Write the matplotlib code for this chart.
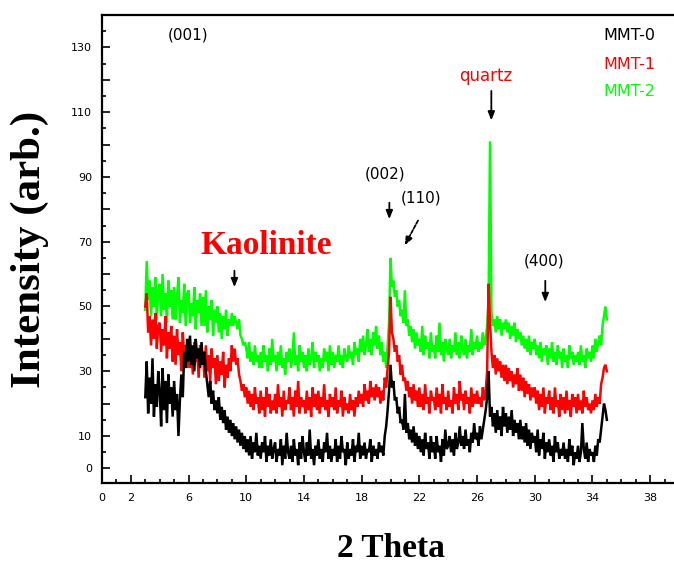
import numpy as np
import matplotlib
matplotlib.use("Agg")
import matplotlib.pyplot as plt
from matplotlib.ticker import FixedLocator, FixedFormatter, MultipleLocator

# ---------------- data ----------------
theta_start, theta_stop, theta_step = 3.0, 35.0, 0.1

mmt2 = [  # green
    49, 64, 52, 58, 47, 56, 50, 59, 46, 55,
    57, 47, 60, 49, 54, 45, 58, 50, 55, 46,
    56, 46, 53, 59, 45, 52, 48, 57, 44, 54,
    55, 45, 51, 47, 56, 43, 52, 48, 54, 44,
    53, 44, 55, 42, 50, 46, 52, 41, 49, 45,
    50, 42, 48, 40, 47, 43, 49, 41, 46, 44,
    48, 44, 47, 45, 43, 46, 41, 40, 38, 39,
    37, 34, 39, 33, 36, 32, 38, 33, 35, 31,
    36, 31, 38, 33, 35, 30, 37, 32, 40, 33,
    35, 30, 36, 32, 38, 31, 34, 29, 36, 33,
    37, 31, 34, 42, 32, 35, 30, 38, 33, 36,
    31, 35, 30, 37, 32, 34, 39, 31, 36, 33,
    35, 30, 34, 31, 37, 33, 36, 30, 38, 32,
    36, 31, 35, 33, 38, 32, 35, 31, 37, 34,
    33, 38, 34, 36, 32, 39, 35, 37, 33, 40,
    36, 41, 35, 38, 43, 36, 40, 35, 42, 38,
    44, 37, 41, 35, 39, 33, 36, 31, 38, 45,
    65, 56, 58, 53, 55, 50, 52, 47, 49, 45,
    55, 44, 46, 41, 44, 39, 43, 37, 42, 38,
    40, 36, 44, 35, 41, 37, 39, 34, 42, 36,
    38, 34, 41, 36, 45, 35, 39, 33, 40, 37,
    35, 40, 34, 38, 36, 42, 35, 39, 34, 41,
    37, 35, 40, 34, 38, 36, 43, 35, 39, 37,
    41, 36, 39, 37, 42, 38, 40, 44, 52, 101,
    48, 44, 46, 42, 47, 43, 46, 41, 45, 43,
    46, 42, 45, 40, 44, 41, 45, 39, 43, 40,
    42, 38, 41, 37, 40, 36, 41, 35, 39, 37,
    40, 35, 38, 34, 39, 33, 37, 35, 38, 32,
    37, 34, 39, 33, 36, 32, 38, 34, 36, 31,
    37, 33, 35, 31, 38, 34, 36, 32, 35, 33,
    36, 32, 38, 33, 35, 31, 37, 34, 36, 33,
    38, 34, 40, 36, 39, 41, 38, 44, 47, 50,
    46,
]

mmt1 = [  # red
    50, 54, 42, 47, 38, 46, 40, 48, 37, 44,
    45, 36, 43, 38, 47, 34, 42, 37, 44, 33,
    41, 32, 43, 35, 39, 30, 42, 34, 38, 31,
    40, 31, 37, 29, 39, 33, 36, 28, 38, 32,
    36, 28, 38, 30, 35, 27, 37, 31, 34, 26,
    35, 27, 33, 29, 36, 25, 32, 28, 34, 30,
    38, 33, 37, 32, 34, 29, 27, 24, 26, 22,
    25, 20, 24, 19, 23, 18, 25, 20, 22, 17,
    24, 18, 22, 16, 25, 19, 23, 17, 21, 18,
    23, 17, 26, 19, 22, 16, 24, 18, 21, 20,
    25, 18, 22, 16, 24, 19, 27, 17, 22, 19,
    21, 17, 24, 18, 22, 16, 25, 19, 23, 18,
    24, 17, 22, 19, 26, 18, 21, 16, 23, 19,
    22, 18, 25, 17, 21, 19, 24, 16, 22, 18,
    20, 17, 23, 18, 21, 16, 22, 19, 24, 20,
    23, 19, 26, 21, 24, 20, 27, 22, 25, 21,
    26, 22, 25, 20, 24, 21, 28, 25, 31, 36,
    53, 42, 40, 36, 38, 33, 35, 29, 32, 27,
    28, 24, 27, 22, 25, 20, 26, 21, 24, 19,
    25, 19, 23, 18, 26, 20, 22, 17, 24, 21,
    22, 18, 25, 19, 23, 17, 26, 20, 22, 18,
    24, 19, 21, 17, 25, 20, 23, 18, 27, 21,
    23, 18, 24, 20, 22, 17, 25, 19, 23, 20,
    24, 20, 22, 19, 25, 21, 24, 30, 57, 45,
    36, 31, 35, 29, 34, 30, 33, 28, 32, 27,
    32, 26, 31, 27, 30, 25, 29, 26, 31, 24,
    29, 24, 28, 22, 27, 23, 26, 21, 25, 22,
    25, 20, 24, 18, 23, 19, 25, 17, 22, 20,
    24, 18, 22, 17, 25, 19, 21, 16, 23, 18,
    22, 17, 24, 18, 21, 16, 23, 19, 22, 17,
    23, 18, 21, 17, 24, 19, 22, 18, 20, 17,
    21, 18, 23, 19, 22, 20, 26, 28, 31, 32,
    30,
]

mmt0 = [  # black
    22, 33, 17, 28, 20, 34, 16, 26, 19, 30,
    24, 13, 31, 18, 27, 14, 29, 20, 25, 16,
    27, 18, 23, 10, 21, 29, 22, 36, 31, 40,
    33, 41, 32, 38, 30, 40, 34, 37, 31, 39,
    32, 36, 30, 26, 22, 27, 20, 24, 18, 21,
    17, 22, 15, 19, 14, 18, 12, 16, 11, 15,
    10, 14, 9, 13, 8, 12, 7, 11, 6, 10,
    5, 9, 4, 10, 3, 8, 5, 11, 4, 7,
    3, 8, 5, 10, 2, 7, 4, 9, 3, 6,
    8, 2, 6, 4, 9, 1, 7, 3, 11, 5,
    3, 7, 2, 9, 4, 6, 1, 8, 3, 10,
    5, 2, 8, 4, 12, 3, 6, 1, 7, 4,
    9, 3, 6, 2, 8, 5, 11, 3, 7, 2,
    6, 4, 9, 2, 7, 3, 10, 5, 6, 1,
    8, 3, 6, 4, 9, 2, 7, 5, 11, 3,
    7, 4, 8, 3, 6, 5, 9, 2, 7, 4,
    6, 3, 8, 5, 7, 4, 10, 13, 18, 24,
    32, 25, 27, 21, 22, 17, 19, 14, 15, 12,
    23, 11, 14, 9, 12, 8, 13, 7, 11, 6,
    10, 5, 9, 4, 11, 6, 8, 3, 10, 5,
    8, 3, 10, 5, 7, 2, 9, 4, 12, 6,
    7, 10, 5, 9, 4, 11, 6, 8, 13, 7,
    10, 6, 12, 7, 9, 5, 11, 8, 14, 9,
    11, 7, 13, 9, 12, 15, 18, 22, 30, 16,
    19, 13, 17, 11, 18, 12, 16, 10, 19, 13,
    17, 11, 16, 12, 18, 10, 15, 11, 14, 9,
    15, 9, 13, 8, 14, 7, 12, 6, 11, 8,
    10, 5, 12, 4, 9, 6, 11, 3, 8, 5,
    9, 4, 7, 2, 10, 5, 8, 3, 6, 4,
    8, 3, 6, 2, 9, 4, 7, 1, 5, 3,
    7, 2, 5, 14, 6, 3, 8, 2, 6, 4,
    5, 2, 7, 4, 9, 8, 12, 16, 20, 18,
    15,
]

series_names = ["MMT-0", "MMT-1", "MMT-2"]
series_colors = ["#000000", "#ff0000", "#00ff00"]

x_tick_values = [0, 2, 6, 10, 14, 18, 22, 26, 30, 34, 38]
x_tick_labels = ["0", "2", "6", "10", "14", "18", "22", "26", "30", "34", "38"]
y_tick_values = [0, 10, 20, 30, 40, 50, 60, 70, 80, 90, 100, 110, 120, 130]
y_tick_labels = ["0", "10", "", "30", "", "50", "", "70", "", "90", "", "110", "", "130"]

theta = np.linspace(theta_start, theta_stop, len(mmt0))

# ---------------- figure ----------------
W, H = 674, 564
fig = plt.figure(figsize=(W / 100, H / 100), dpi=100)
ax = fig.add_axes([102 / W, 1 - 483 / H, (679 - 102) / W, (483 - 15) / H])

for y, c, z in [(mmt2, series_colors[2], 1), (mmt1, series_colors[1], 2), (mmt0, series_colors[0], 3)]:
    ax.plot(theta, y, color=c, lw=1.8, zorder=z, solid_joinstyle="miter")

ax.set_xlim(0, 40)
ax.set_ylim(-4.5, 140)

for s in ax.spines.values():
    s.set_linewidth(1.6)

ax.xaxis.set_major_locator(FixedLocator(x_tick_values))
ax.xaxis.set_major_formatter(FixedFormatter(x_tick_labels))
ax.xaxis.set_minor_locator(MultipleLocator(1))
ax.yaxis.set_major_locator(FixedLocator(y_tick_values))
ax.yaxis.set_major_formatter(FixedFormatter(y_tick_labels))
ax.yaxis.set_minor_locator(MultipleLocator(5))
ax.tick_params(which="both", direction="in", top=False, right=False, width=1.2)
ax.tick_params(which="major", length=6, labelsize=8, pad=7)
ax.tick_params(which="minor", length=3)

serif = ["Liberation Serif", "DejaVu Serif"]
ax.set_xlabel("2 Theta", fontsize=24, fontweight="bold", family=serif, labelpad=22)
ax.set_ylabel("Intensity (arb.)", fontsize=31, fontweight="bold", family=serif, labelpad=16)

# legend as coloured text
for name, c, yy in zip(series_names, series_colors, [133.6, 124.8, 116.5]):
    ax.text(34.75, yy, name, color=c, fontsize=11.5, ha="left", va="center")

# annotations
lab = dict(fontsize=11, ha="center", va="center", color="black")
ax.text(5.99, 133.8, "(001)", **lab)
ax.text(19.64, 90.9, "(002)", **lab)
ax.text(22.13, 83.5, "(110)", **lab)
ax.text(30.66, 64.0, "(400)", **lab)
ax.text(26.57, 121.1, "quartz", fontsize=12, ha="center", va="center", color="#ff0000")
ax.text(11.39, 68.7, "Kaolinite", fontsize=24, fontweight="bold", family=serif,
        ha="center", va="center", color="#ff0000")

arrow = dict(arrowstyle="-|>,head_length=0.5,head_width=0.2", color="black", lw=1.3)
ax.annotate("", xy=(9.18, 55.1), xytext=(9.18, 61.9), arrowprops=arrow)
ax.annotate("", xy=(19.92, 76.1), xytext=(19.92, 82.9), arrowprops=arrow)
ax.annotate("", xy=(20.89, 68.1), xytext=(22.0, 77.3),
            arrowprops=dict(arrowstyle="-|>,head_length=0.5,head_width=0.2", color="black",
                            lw=1.3, linestyle=(0, (2, 1))))
ax.annotate("", xy=(26.99, 106.6), xytext=(26.99, 117.4), arrowprops=arrow)
ax.annotate("", xy=(30.73, 50.5), xytext=(30.73, 58.8), arrowprops=arrow)

fig.savefig("out.png", dpi=100)
